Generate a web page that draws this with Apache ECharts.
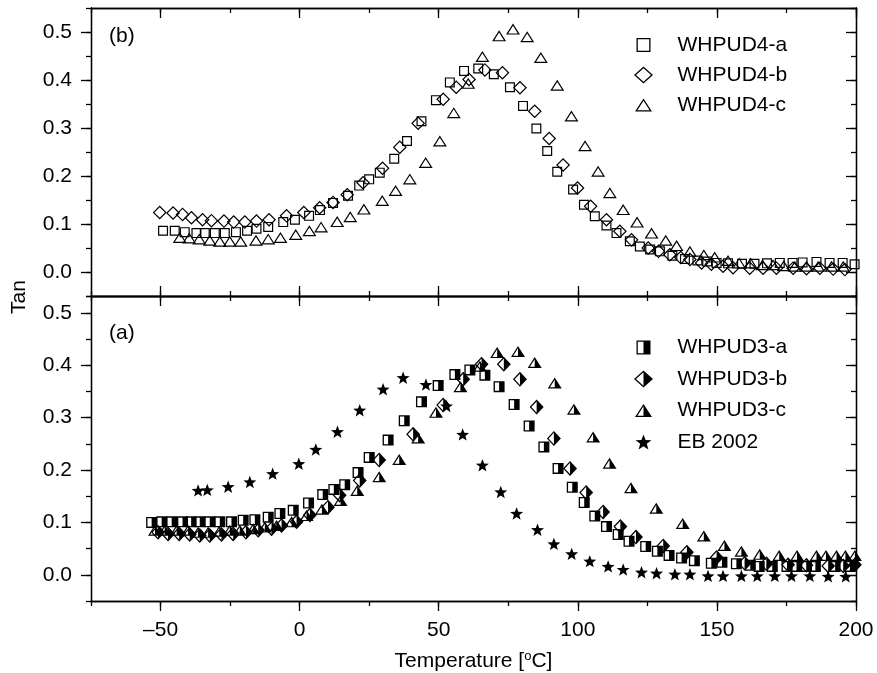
<!DOCTYPE html>
<html><head><meta charset="utf-8">
<script src="https://cdn.jsdelivr.net/npm/echarts@6/dist/echarts.min.js"></script>
<style>html,body{margin:0;padding:0;background:#fff}#c{width:877px;height:673px}</style>
</head><body><div id="c"></div>
<script>
// ---------------- data ----------------
// Panel (b)
const tempB_a = [-49.1,-44.9,-41.3,-37.1,-34.1,-30.5,-26.9,-22.9,-18.9,-15.5,-11.3,-5.9,-1.7,3.4,7.3,12.0,17.4,21.4,25.0,28.8,34.0,38.6,43.8,49.0,54.0,59.1,64.2,69.8,75.6,80.3,85.1,89.0,92.6,98.3,102.2,106.1,110.3,113.9,118.7,122.3,126.0,129.5,134.0,138.5,143.0,146.5,149.9,154.0,159.0,163.5,168.0,172.6,177.2,180.8,185.8,190.5,195.2,199.5];
const tanB_a  = [.086,.086,.083,.081,.081,.081,.081,.083,.086,.090,.094,.104,.109,.117,.129,.144,.159,.180,.193,.207,.236,.273,.314,.358,.395,.419,.424,.412,.385,.346,.299,.252,.209,.172,.140,.116,.097,.081,.064,.053,.047,.043,.034,.027,.024,.022,.019,.018,.017,.017,.018,.019,.019,.020,.021,.019,.019,.016];
const tempB_b = [-50.3,-45.5,-42.1,-38.9,-34.9,-31.7,-27.2,-23.7,-19.7,-15.5,-11.0,-4.7,1.5,7.2,12.0,17.1,22.8,29.8,36.0,42.6,51.6,56.3,60.9,66.6,72.9,79.2,84.5,89.7,94.7,99.9,104.6,110.3,115.1,119.3,125.3,129.0,133.1,137.0,140.3,144.5,148.0,152.2,155.8,161.8,166.6,171.4,177.4,182.2,187.0,191.8,196.0];
const tanB_b  = [.124,.123,.120,.113,.109,.107,.106,.104,.104,.106,.109,.117,.124,.134,.145,.161,.186,.216,.260,.310,.360,.385,.401,.421,.415,.384,.335,.278,.223,.175,.137,.109,.085,.067,.050,.043,.036,.030,.026,.019,.016,.012,.009,.008,.008,.008,.008,.007,.008,.006,.005];
const tempB_c = [-43.1,-39.7,-36.1,-32.3,-28.7,-25.1,-21.2,-15.7,-11.3,-6.9,-1.4,3.5,7.7,13.5,18.2,23.1,29.7,34.5,39.6,45.3,50.4,55.4,60.6,65.7,71.7,76.7,81.8,86.7,92.6,97.7,102.6,107.3,111.5,116.3,121.3,126.5,131.6,135.5,140.3,145.3,149.2,154.0,158.0,162.1,166.4,170.2,174.0,178.0,182.2,186.4,191.2,195.4];
const tanB_c  = [.072,.071,.069,.066,.064,.064,.064,.066,.069,.072,.078,.086,.094,.105,.115,.131,.149,.170,.194,.228,.273,.332,.393,.449,.492,.506,.490,.447,.389,.325,.263,.210,.165,.130,.104,.081,.066,.055,.043,.036,.031,.024,.019,.019,.015,.015,.013,.012,.012,.012,.012,.012];
// Panel (a)
const tempA_a = [-53.2,-49.6,-46.0,-42.1,-39.0,-35.9,-32.3,-28.7,-24.5,-20.3,-16.1,-11.3,-7.1,-2.3,3.2,8.3,12.3,16.2,21.0,25.0,31.8,37.6,43.8,49.8,55.8,61.2,66.6,71.7,77.1,82.5,87.8,92.9,98.0,102.3,106.1,110.3,114.5,118.4,124.4,128.6,132.8,137.3,141.9,148.0,151.8,157.0,162.0,165.2,169.9,175.2,178.6,182.2,185.4,192.5,197.8];
const tanA_a  = [.100,.101,.101,.101,.101,.101,.101,.101,.101,.104,.105,.110,.117,.123,.137,.153,.163,.172,.195,.224,.257,.294,.330,.361,.382,.391,.381,.359,.325,.284,.244,.203,.167,.138,.112,.092,.077,.064,.054,.045,.037,.032,.027,.022,.024,.021,.018,.016,.016,.016,.016,.016,.016,.016,.016];
const tempA_b = [-50.9,-47.3,-43.3,-39.5,-35.9,-32.3,-28.1,-23.9,-19.3,-14.9,-10.1,-6.5,-1.1,3.7,10.2,14.4,21.6,28.6,40.8,51.6,58.8,65.4,73.4,79.2,85.2,91.4,97.2,103.0,109.1,115.3,120.9,130.7,139.2,149.9,160.0,167.8,175.6,182.2,190.0,195.4,199.6];
const tanA_b  = [.081,.078,.078,.077,.075,.075,.077,.078,.081,.085,.088,.094,.101,.114,.129,.152,.180,.219,.268,.324,.373,.402,.402,.373,.320,.260,.203,.157,.120,.092,.072,.055,.043,.033,.022,.021,.019,.018,.017,.017,.019];
const tempA_c = [-52.0,-48.5,-44.2,-40.1,-36.5,-32.9,-28.9,-25.1,-21.5,-16.7,-12.5,-8.3,-2.9,2.5,8.0,14.7,20.7,28.6,35.8,42.6,49.0,57.8,64.8,71.0,78.5,84.5,91.7,98.6,105.5,111.4,119.1,128.2,137.7,145.3,152.7,158.8,165.4,172.4,178.8,185.8,189.2,193.0,196.2,199.6];
const tanA_c  = [.085,.085,.085,.085,.081,.081,.083,.085,.085,.088,.091,.094,.101,.113,.125,.142,.161,.187,.220,.261,.310,.359,.398,.424,.426,.405,.366,.316,.263,.213,.166,.127,.098,.074,.056,.045,.039,.037,.037,.037,.037,.037,.037,.037];
const tempEB  = [-36.5,-33.2,-25.7,-17.9,-9.7,-0.3,5.8,13.6,21.6,30.0,37.2,45.4,52.8,58.6,65.7,72.3,78.0,85.5,91.4,97.8,104.3,110.9,116.3,122.9,128.3,134.9,140.3,146.8,152.2,158.8,164.5,170.8,176.8,183.4,190.0,196.3];
const tanEB   = [.161,.162,.168,.177,.193,.212,.239,.273,.314,.354,.376,.363,.322,.268,.209,.158,.117,.086,.059,.040,.026,.016,.010,.005,.003,.001,.001,-.002,-.002,-.002,-.002,-.002,-.002,-.002,-.003,-.003];

const namesB = ['WHPUD4-a','WHPUD4-b','WHPUD4-c'];
const namesA = ['WHPUD3-a','WHPUD3-b','WHPUD3-c','EB 2002'];
const panelLabels = ['(b)','(a)'];
const xMajorTicks = [-50, 0, 50, 100, 150, 200];
const yMajorTicks = [0, 0.1, 0.2, 0.3, 0.4, 0.5];
const xTitle = 'Temperature [';
const yTitle = 'Tan';

// ---------------- symbols ----------------
const STAR = 'M10,0L12.47,6.6L19.51,6.91L13.99,11.3L15.88,18.09L10,14.2L4.12,18.09L6.01,11.3L0.49,6.91L7.53,6.6Z';
const SYM = {
  openSquare: 'path://M0,0L10,0L10,10L0,10ZM1.2,1.2L1.2,8.8L8.8,8.8L8.8,1.2Z',
  openDiamond: 'path://M7,0L14,7L7,14L0,7ZM7,1.7L1.7,7L7,12.3L12.3,7Z',
  openTriangle: 'path://M7,0L14,11L0,11ZM7,2.23L2.19,9.8L11.81,9.8Z',
  halfSquare: 'path://M0,0L10,0L10,10L0,10ZM1.2,1.2L1.2,8.8L5,8.8L5,1.2Z',
  halfDiamond: 'path://M7,0L14,7L7,14L0,7ZM7,1.7L1.7,7L7,12.3Z',
  halfTriangle: 'path://M7,0L14,11L0,11ZM7,2.23L2.19,9.8L7,9.8Z',
  star: 'path://' + STAR
};
// legend icons (17 px box, padded with zero-length subpaths)
const PADBOX = 'M0,0L0,0M17,17L17,17';
const ICON = {
  openSquare: 'path://' + PADBOX + 'M1.5,1.5L15.5,1.5L15.5,15.5L1.5,15.5ZM2.8,2.8L2.8,14.2L14.2,14.2L14.2,2.8Z',
  halfSquare: 'path://' + PADBOX + 'M1.5,1.5L15.5,1.5L15.5,15.5L1.5,15.5ZM2.8,2.8L2.8,14.2L8.5,14.2L8.5,2.8Z',
  openDiamond: 'path://M9.5,0L19,8.5L9.5,17L0,8.5ZM9.5,1.74L1.95,8.5L9.5,15.26L17.05,8.5Z',
  halfDiamond: 'path://M9.5,0L19,8.5L9.5,17L0,8.5ZM9.5,1.74L1.95,8.5L9.5,15.26Z',
  openTriangle: 'path://' + PADBOX + 'M8.5,2L17,15L0,15ZM8.5,4.37L2.4,13.7L14.6,13.7Z',
  halfTriangle: 'path://' + PADBOX + 'M8.5,2L17,15L0,15ZM8.5,4.37L2.4,13.7L8.5,13.7Z',
  star: 'path://M10,-1.2L10,-1.2M10,19.29L10,19.29' + STAR
};

const FONT = '"Liberation Sans", Arial, Helvetica, sans-serif';
const FS = 21;
const BLACK = '#000';
const LW = 1.3;

function fmtX(v){ return v < 0 ? '\u2013' + (-v) : String(v); }
function fmtY(v){ return (Math.abs(v) < 1e-9 ? 0 : v).toFixed(1); }

function xAx(grid, pos, major, inside, labels, extra){
  const a = {
    type:'value', gridIndex:grid, position:pos, min:-75, max:200, interval:25,
    axisLine:{show:true,onZero:false,lineStyle:{color:BLACK,width:LW}},
    axisTick:{show:true,inside:inside,length:major?10:5,lineStyle:{color:BLACK,width:LW}},
    axisLabel:{show:labels,margin:19,fontSize:FS,color:BLACK,fontFamily:FONT,formatter:fmtX},
    splitLine:{show:false}, minorTick:{show:false}
  };
  if (major) a.axisTick.customValues = xMajorTicks;
  if (labels) a.axisLabel.customValues = xMajorTicks;
  return Object.assign(a, extra || {});
}
function yAx(grid, pos, max, major, inside, labels){
  const a = {
    type:'value', gridIndex:grid, position:pos, min:-0.05, max:max, interval:0.05,
    axisLine:{show:true,onZero:false,lineStyle:{color:BLACK,width:LW}},
    axisTick:{show:true,inside:inside,length:major?10:5,lineStyle:{color:BLACK,width:LW}},
    axisLabel:{show:labels,margin:19,fontSize:FS,color:BLACK,fontFamily:FONT,formatter:fmtY},
    splitLine:{show:false}, minorTick:{show:false}
  };
  if (major) a.axisTick.customValues = yMajorTicks;
  if (labels) a.axisLabel.customValues = yMajorTicks;
  return a;
}

const xAxes = [
  xAx(0,'bottom',false,true,false), xAx(0,'bottom',true,true,false),
  xAx(0,'top',false,true,false),    xAx(0,'top',true,true,false),
  xAx(1,'bottom',false,false,false),
  xAx(1,'bottom',true,false,true,{
    name:'{t|' + xTitle + '}{s|o}{t|C]}', nameLocation:'middle', nameGap:47,
    nameTextStyle:{rich:{
      t:{fontSize:FS,fontFamily:FONT,color:BLACK,lineHeight:24,verticalAlign:'bottom'},
      s:{fontSize:13,fontFamily:FONT,color:BLACK,lineHeight:24,verticalAlign:'top',padding:[2,0,0,0]}
    }}
  }),
  xAx(1,'top',false,true,false),    xAx(1,'top',true,true,false)
];
const yAxes = [
  yAx(0,'left',0.55,false,false,false), yAx(0,'left',0.55,true,false,true),
  yAx(0,'right',0.55,false,true,false), yAx(0,'right',0.55,true,true,false),
  yAx(1,'left',0.532,false,false,false), yAx(1,'left',0.532,true,false,true),
  yAx(1,'right',0.532,false,true,false), yAx(1,'right',0.532,true,true,false)
];

function sc(name, xs, ys, symbol, size, xi, yi){
  return {
    type:'scatter', name:name, xAxisIndex:xi, yAxisIndex:yi,
    symbol:symbol, symbolSize:size,
    data: xs.map((x,i)=>[x, ys[i]]),
    itemStyle:{color:BLACK, borderWidth:0, opacity:1},
    emphasis:{disabled:true}, silent:true
  };
}

const series = [
  sc(namesB[0], tempB_a, tanB_a, SYM.openSquare, [10,10], 0, 0),
  sc(namesB[1], tempB_b, tanB_b, SYM.openDiamond, [14,14], 0, 0),
  sc(namesB[2], tempB_c, tanB_c, SYM.openTriangle, [14,11], 0, 0),
  sc(namesA[0], tempA_a, tanA_a, SYM.halfSquare, [11,11], 4, 4),
  sc(namesA[1], tempA_b, tanA_b, SYM.halfDiamond, [14,15], 4, 4),
  sc(namesA[2], tempA_c, tanA_c, SYM.halfTriangle, [14,11], 4, 4),
  sc(namesA[3], tempEB, tanEB, SYM.star, [13,12.4], 4, 4)
];

const legendText = {fontSize:FS, color:BLACK, fontFamily:FONT, lineHeight:21};
const iconsB = [ICON.openSquare, ICON.openDiamond, ICON.openTriangle];
const iconsA = [ICON.halfSquare, ICON.halfDiamond, ICON.halfTriangle, ICON.star];
const option = {
  animation:false,
  backgroundColor:'#fff',
  textStyle:{fontFamily:FONT},
  grid:[
    {left:91, right:21, top:8, height:288},
    {left:91, right:21, top:296, height:305}
  ],
  xAxis: xAxes,
  yAxis: yAxes,
  legend:[
    {data:namesB.map((n,i)=>({name:n, icon:iconsB[i]})), orient:'vertical', left:629, top:29.5,
     itemWidth:58, itemHeight:17, itemGap:9, selectedMode:false, textStyle:legendText},
    {data:namesA.map((n,i)=>({name:n, icon:iconsA[i]})), orient:'vertical', left:629, top:332,
     itemWidth:58, itemHeight:17, itemGap:10.5, selectedMode:false, textStyle:legendText}
  ],
  graphic:[
    {type:'text', left:109, top:26, silent:true, style:{text:panelLabels[0], fontSize:FS, fontFamily:FONT, fill:BLACK}},
    {type:'text', left:109, top:323, silent:true, style:{text:panelLabels[1], fontSize:FS, fontFamily:FONT, fill:BLACK}},
    {type:'text', x:19, y:297, rotation:Math.PI/2, silent:true,
     style:{text:yTitle, fontSize:FS, fontFamily:FONT, fill:BLACK, align:'center', verticalAlign:'middle'}}
  ],
  series: series
};
const chart = echarts.init(document.getElementById('c'), null, {renderer:'canvas'});
chart.setOption(option);
</script>
</body></html>
